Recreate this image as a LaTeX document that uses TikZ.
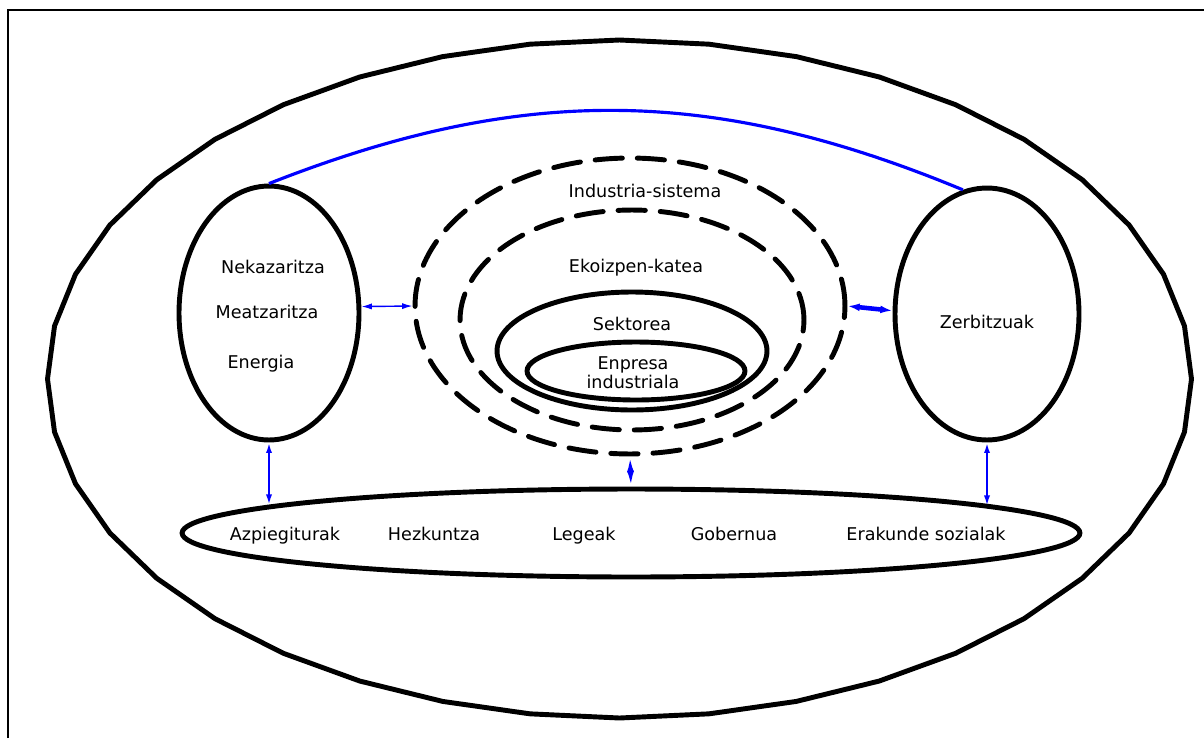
\documentclass[tikz,border=0pt]{standalone}
\usepackage{fontspec}
\setmainfont{DejaVu Sans}
\usetikzlibrary{arrows.meta,shapes.geometric}

\begin{document}
\begin{tikzpicture}[x=0.02cm,y=-0.02cm,
	ring_node/.style={ellipse,draw,line width=2.8pt,inner sep=0pt},
	dash_node/.style={ring_node,line cap=round,dash pattern=on 15.5pt off 8.5pt},
	text_node/.style={font=\fontsize{10}{11}\selectfont,align=center,inner sep=1pt,text height=7.5pt,text depth=2pt},
	link_arrow/.style={blue,{Latex[length=6pt,width=3.5pt]}-{Latex[length=6pt,width=3.5pt]}}]

		\useasboundingbox (0,0) rectangle (1204,738);
		\draw[line width=1pt] (8,738) -- (8,10) -- (1204,10);

		\draw[line width=2.8pt,line join=round] plot[samples=41,domain=0:360] ({619.5+572*cos(\x)},{379+339*sin(\x)}) -- cycle;

		\node[ring_node,minimum width=3.6cm,minimum height=5.08cm] (primary) at (269,313) {};
		\node[ring_node,minimum width=3.68cm,minimum height=5.04cm] (services) at (987,314) {};
		\node[ring_node,minimum width=17.96cm,minimum height=1.76cm] (base) at (631,533) {};
		\node[dash_node,minimum width=8.6cm,minimum height=5.92cm] (system) at (630,306) {};
		\node[dash_node,minimum width=6.88cm,minimum height=4.4cm] (chain) at (632,320) {};
		\node[ring_node,minimum width=5.4cm,minimum height=2.36cm] (sector) at (632,351) {};
		\node[ring_node,minimum width=4.36cm,minimum height=1.16cm] (firm) at (636,371) {};

		\coordinate (base_left) at (269,505);
		\coordinate (base_right) at (987,506);

		\node[text_node] (t_system) at (645,193) {Industria-sistema};
		\node[text_node] (t_chain) at (636,268) {Ekoizpen-katea};
		\node[text_node] (t_sector) at (632,326) {Sektorea};
		\node[font=\fontsize{10}{11}\selectfont,align=center] (t_firm) at (633,373) {Enpresa\\industriala};
		\node[text_node] (t_farm) at (273,269) {Nekazaritza};
		\node[text_node] (t_mine) at (267,314) {Meatzaritza};
		\node[text_node] (t_energy) at (261,364) {Energia};
		\node[text_node] (t_services) at (987,324) {Zerbitzuak};
		\node[text_node] (t_infra) at (285,536) {Azpiegiturak};
		\node[text_node] (t_edu) at (434,536) {Hezkuntza};
		\node[text_node] (t_law) at (584,536) {Legeak};
		\node[text_node] (t_gov) at (734,536) {Gobernua};
		\node[text_node] (t_social) at (926,536) {Erakunde sozialak};

		\draw[blue,line width=1.8pt] (primary.north) to[bend left=22] (services.101);

		\draw[link_arrow,line width=0.8pt] (primary.4) -- (system.west);
		\draw[blue,line width=2.6pt,{Latex[length=7pt,width=4.5pt]}-{Latex[length=7pt,width=4.5pt]}] (system.east) -- (services.178);
		\draw[link_arrow,line width=1.5pt] (primary.south) -- (base_left);
		\draw[blue,line width=1.5pt,{Latex[length=9pt,width=4pt]}-{Latex[length=9pt,width=4pt]}] (system.south) -- (base.north);
		\draw[link_arrow,line width=1.5pt] (services.south) -- (base_right);
		\end{tikzpicture}
\end{document}
